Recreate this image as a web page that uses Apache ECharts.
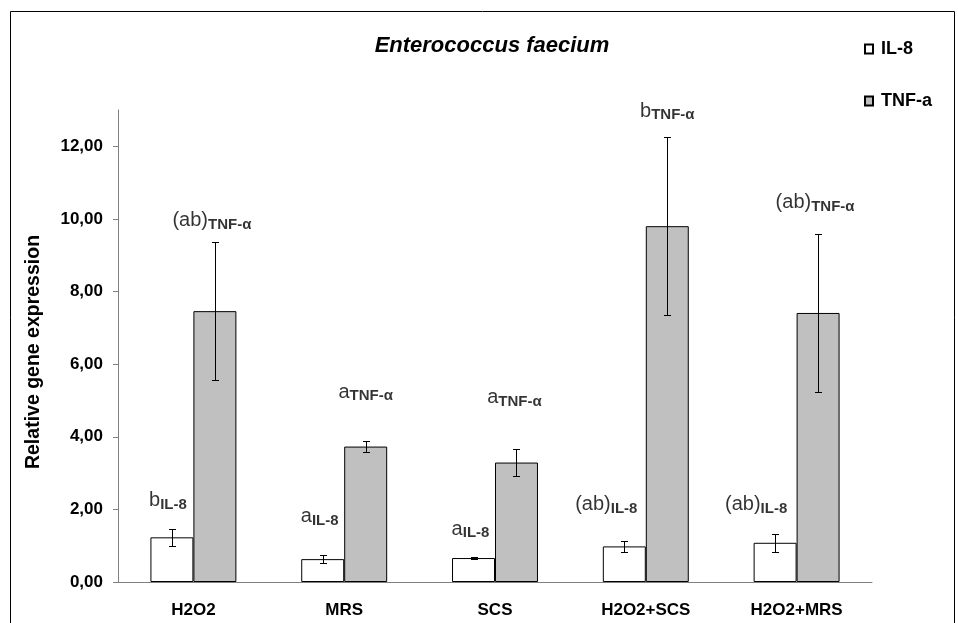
<!DOCTYPE html>
<html><head><meta charset="utf-8">
<script src="https://cdn.jsdelivr.net/npm/echarts@6/dist/echarts.min.js"></script>
<style>html,body{margin:0;padding:0;background:#fff}#c{width:958px;height:623px}</style>
</head><body><div id="c"></div>
<script>
// ---- data ----
const categories = ['H2O2', 'MRS', 'SCS', 'H2O2+SCS', 'H2O2+MRS'];
const seriesNames = ['IL-8', 'TNF-a'];
const il8Values = [1.23, 0.63, 0.66, 0.98, 1.08];
const il8Errors = [0.24, 0.12, 0.02, 0.16, 0.25];
const tnfValues = [7.46, 3.73, 3.29, 9.80, 7.41];
const tnfErrors = [1.91, 0.15, 0.38, 2.45, 2.18];
const il8Letters = ['b', 'a', 'a', '(ab)', '(ab)'];
const tnfLetters = ['(ab)', 'a', 'a', 'b', '(ab)'];
const il8Sub = 'IL-8';
const tnfSub = 'TNF-\u03b1';
const yTicks = [0, 2, 4, 6, 8, 10, 12];
const yMax = 13;

// ---- layout (pixel offsets of significance-label baselines from error-bar tops) ----
const il8LabelOffsets = [[-4, -21], [-3, -31], [-3, -21], [-18, -29], [-19, -22]];
const tnfLabelOffsets = [[-3, -14], [0, -42], [-2, -44], [0, -19], [-3, -24]];

const FONT = '"Liberation Sans", Arial, sans-serif';
const CAT_GAP = 0.43;
const GRID = { left: 118, right: 86, top: 110, bottom: 41 };
const WIDTH = 958;
const BAND = (WIDTH - GRID.left - GRID.right) / categories.length;
const BAR_SHIFT = BAND * (1 - CAT_GAP) / 4;

function errRender(side) {
  return function (params, api) {
    const i = api.value(0), v = api.value(1), e = api.value(2);
    const c = api.coord([i, v]);
    const band = api.size([1, 0])[0];
    const bw = band * (1 - CAT_GAP) / 2;
    const x = Math.round(c[0] + side * bw / 2) + 0.5;
    const top = Math.round(api.coord([i, v + e])[1]) + 0.5;
    const bot = Math.round(api.coord([i, v - e])[1]) + 0.5;
    const st = { stroke: '#000', lineWidth: 1 };
    return { type: 'group', children: [
      { type: 'line', shape: { x1: x, y1: top, x2: x, y2: bot }, style: st },
      { type: 'line', shape: { x1: x - 3.5, y1: top, x2: x + 3.5, y2: top }, style: st },
      { type: 'line', shape: { x1: x - 3.5, y1: bot, x2: x + 3.5, y2: bot }, style: st }
    ]};
  };
}

const rich = {
  m: { fontFamily: FONT, fontSize: 20, lineHeight: 24, color: '#000' },
  s: { fontFamily: FONT, fontSize: 15, fontWeight: 'bold', lineHeight: 16, padding: [8, 0, 0, 0], color: '#000' }
};

function labelData(values, errors, letters, sub, offsets, side) {
  return values.map((v, i) => ({
    value: [i, v + errors[i]],
    label: { offset: [offsets[i][0] + side * BAR_SHIFT, offsets[i][1] + 5], formatter: '{m|' + letters[i] + '}{s|' + sub + '}' }
  }));
}

const chart = echarts.init(document.getElementById('c'), null, { renderer: 'canvas' });
chart.setOption({
  animation: false,
  backgroundColor: '#fff',
  textStyle: { fontFamily: FONT },
  graphic: [{ type: 'rect', shape: { x: 10.5, y: 11.5, width: 944, height: 700 }, style: { fill: 'none', stroke: '#000', lineWidth: 1 }, silent: true }],
  title: {
    text: 'Enterococcus faecium', left: 487, top: 30, textAlign: 'center',
    textStyle: { fontFamily: FONT, fontStyle: 'italic', fontWeight: 'bold', fontSize: 22, color: '#000' }
  },
  legend: {
    data: seriesNames, orient: 'vertical', left: 859, top: 35, itemWidth: 8, itemHeight: 9, itemGap: 34,
    icon: 'rect',
    textStyle: { fontFamily: FONT, fontWeight: 'bold', fontSize: 18, color: '#000', padding: [0, 0, 0, 3] }
  },
  grid: GRID,
  xAxis: {
    type: 'category', data: categories,
    axisLine: { lineStyle: { color: '#808080', width: 1 } },
    axisTick: { length: 7, lineStyle: { color: '#808080' } },
    axisLabel: { margin: 20, fontFamily: FONT, fontWeight: 'bold', fontSize: 17, color: '#000' }
  },
  yAxis: {
    type: 'value', min: 0, max: yMax, interval: 2,
    name: 'Relative gene expression', nameLocation: 'middle', nameRotate: 90, nameGap: 74,
    nameTextStyle: { fontFamily: FONT, fontWeight: 'bold', fontSize: 19.5, color: '#000', padding: [0, 12, 0, 0] },
    axisLine: { show: true, lineStyle: { color: '#808080', width: 1 } },
    axisTick: { show: true, length: 5, lineStyle: { color: '#808080' }, customValues: yTicks },
    splitLine: { show: false },
    axisLabel: {
      margin: 15, fontFamily: FONT, fontWeight: 'bold', fontSize: 17, color: '#000', customValues: yTicks,
      formatter: v => v.toFixed(2).replace('.', ',')
    }
  },
  series: [
    { name: seriesNames[0], type: 'bar', data: il8Values, barGap: '0%', barCategoryGap: (CAT_GAP * 100) + '%',
      itemStyle: { color: '#ffffff', borderColor: '#000', borderWidth: 1 } },
    { name: seriesNames[1], type: 'bar', data: tnfValues, barGap: '0%', barCategoryGap: (CAT_GAP * 100) + '%',
      itemStyle: { color: '#c0c0c0', borderColor: '#000', borderWidth: 1 } },
    { type: 'custom', renderItem: errRender(-1), encode: { x: 0, y: 1 }, z: 5,
      data: il8Values.map((v, i) => [i, v, il8Errors[i]]) },
    { type: 'custom', renderItem: errRender(1), encode: { x: 0, y: 1 }, z: 5,
      data: tnfValues.map((v, i) => [i, v, tnfErrors[i]]) },
    { type: 'scatter', symbolSize: 0, z: 6,
      label: { show: true, position: 'top', distance: 0, color: '#000', rich: rich },
      data: labelData(il8Values, il8Errors, il8Letters, il8Sub, il8LabelOffsets, -1) },
    { type: 'scatter', symbolSize: 0, z: 6,
      label: { show: true, position: 'top', distance: 0, color: '#000', rich: rich },
      data: labelData(tnfValues, tnfErrors, tnfLetters, tnfSub, tnfLabelOffsets, 1) }
  ]
});
</script></body></html>
